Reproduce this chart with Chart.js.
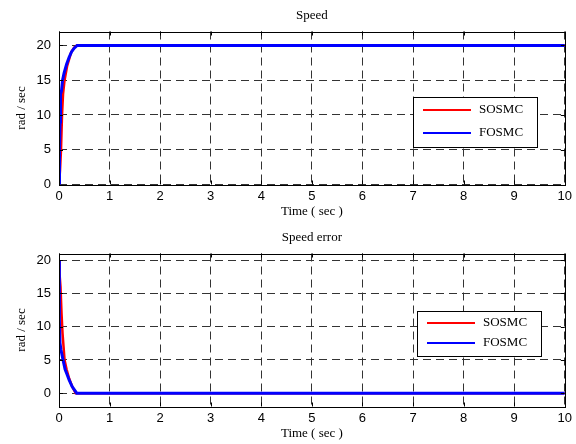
<!DOCTYPE html>
<html>
<head>
<meta charset="utf-8">
<script src="https://cdn.jsdelivr.net/npm/chart.js@4"></script>
<style>
  html, body { margin: 0; padding: 0; background: #fff; }
  .plot { position: absolute; left: 0; width: 576px; height: 222px; }
</style>
</head>
<body>
<div class="plot" style="top:0"><canvas id="speedChart"></canvas></div>
<div class="plot" style="top:222px"><canvas id="errorChart"></canvas></div>
<script>
// time axis ticks (sec)
const timeTicks = [0, 1, 2, 3, 4, 5, 6, 7, 8, 9, 10]
const radTicks = [0, 5, 10, 15, 20]

// speed response (rad/sec)
const speedTimeSO = [0, 0.02, 0.04, 0.06, 0.08, 0.11, 0.16, 0.24, 0.3, 0.35, 10]
const speedSO     = [0, 2, 5, 10, 13, 15, 17, 19, 19.7, 20, 20]
const speedTimeFO = [0, 0.01, 0.02, 0.03, 0.05, 0.07, 0.1, 0.15, 0.2, 0.25, 0.3, 0.36, 10]
const speedFO     = [0, 5, 9, 13, 13.5, 15, 16, 17.3, 18.3, 19.1, 19.6, 20, 20]

// speed error (rad/sec)
const errTimeSO = [0, 0.01, 0.03, 0.05, 0.07, 0.09, 0.11, 0.15, 0.2, 0.26, 0.33, 10]
const errSO     = [20, 18, 16, 12, 9, 7, 5, 3.6, 2.2, 1, 0, 0]
const errTimeFO = [0, 0.005, 0.01, 0.02, 0.04, 0.08, 0.12, 0.16, 0.2, 0.26, 0.35, 10]
const errFO     = [20, 16, 11, 7.5, 6.5, 5, 3.6, 2.8, 2, 1, 0, 0]

const pts = (xs, ys) => xs.map((x, i) => ({ x: x, y: ys[i] }))

const serif = "'Liberation Serif', 'Times New Roman', serif"
const sans = "'Liberation Sans', Arial, sans-serif"

// box, inward ticks and a MATLAB-like legend
const boxPlugin = {
  id: 'matlabBox',
  afterDatasetsDraw(chart, args, opts) {
    const { ctx, chartArea: a, scales } = chart
    ctx.save()
    ctx.strokeStyle = '#000'
    ctx.lineWidth = 1
    ctx.beginPath()
    timeTicks.forEach(v => {
      const x = Math.round(scales.x.getPixelForValue(v)) + 0.5
      ctx.moveTo(x, a.bottom); ctx.lineTo(x, a.bottom - 4)
      ctx.moveTo(x, a.top); ctx.lineTo(x, a.top + 4)
    })
    radTicks.forEach(v => {
      const y = Math.round(scales.y.getPixelForValue(v)) + 0.5
      ctx.moveTo(a.left, y); ctx.lineTo(a.left + 4, y)
      ctx.moveTo(a.right, y); ctx.lineTo(a.right - 4, y)
    })
    ctx.stroke()
    ctx.strokeRect(Math.round(a.left) + 0.5, Math.round(a.top) + 0.5,
      Math.round(a.right - a.left), Math.round(a.bottom - a.top))

    // legend
    const L = opts.box
    ctx.fillStyle = '#fff'
    ctx.fillRect(L.x, L.y, L.w, L.h)
    ctx.strokeRect(L.x + 0.5, L.y + 0.5, L.w, L.h)
    ctx.font = '13px ' + serif
    ctx.textBaseline = 'middle'
    chart.data.datasets.forEach((ds, i) => {
      const y = L.y + L.row0 + i * L.rowGap
      ctx.strokeStyle = ds.borderColor
      ctx.lineWidth = 2
      ctx.beginPath()
      ctx.moveTo(L.x + 10, y); ctx.lineTo(L.x + 58, y)
      ctx.stroke()
      ctx.fillStyle = '#000'
      ctx.fillText(ds.label, L.x + 66, y)
    })
    ctx.restore()
  }
}

function makeChart(id, title, so, fo, yMin, yMax, legendBox) {
  new Chart(document.getElementById(id), {
    type: 'line',
    data: {
      datasets: [
        { label: 'SOSMC', data: so, borderColor: '#ff0000', borderWidth: 2.5, pointRadius: 0, tension: 0, order: 1 },
        { label: 'FOSMC', data: fo, borderColor: '#0000ff', borderWidth: 3, pointRadius: 0, tension: 0, order: 0 }
      ]
    },
    plugins: [boxPlugin],
    options: {
      responsive: true,
      maintainAspectRatio: false,
      animation: false,
      layout: { padding: { top: 0, right: 11, bottom: 0, left: 0 } },
      plugins: {
        legend: { display: false },
        tooltip: { enabled: false },
        title: {
          display: true,
          text: title,
          fullSize: false,
          color: '#000',
          font: { family: serif, size: 13, weight: 'normal' },
          padding: { top: 8, bottom: 7.9 }
        },
        matlabBox: { box: legendBox }
      },
      scales: {
        x: {
          type: 'linear',
          min: 0,
          max: 10,
          afterBuildTicks: s => { s.ticks = timeTicks.map(v => ({ value: v })) },
          afterFit: s => { s.height = 37.5 },
          grid: { color: '#333', lineWidth: 1, drawTicks: false },
          border: { display: false, dash: [8, 5] },
          ticks: { color: '#000', font: { family: sans, size: 13 }, padding: 4, maxRotation: 0 },
          title: { display: true, text: 'Time ( sec )', color: '#000', font: { family: serif, size: 13 }, padding: 3 }
        },
        y: {
          min: yMin,
          max: yMax,
          afterBuildTicks: s => { s.ticks = radTicks.map(v => ({ value: v })) },
          afterFit: s => { s.width = 59 },
          grid: { color: '#333', lineWidth: 1, drawTicks: false },
          border: { display: false, dash: [8, 5] },
          ticks: { color: '#000', font: { family: sans, size: 13 }, padding: 8 },
          title: { display: true, text: 'rad / sec', color: '#000', font: { family: serif, size: 13 }, padding: 14 }
        }
      }
    }
  })
}

makeChart('speedChart', 'Speed', pts(speedTimeSO, speedSO), pts(speedTimeFO, speedFO), 0, 22,
  { x: 413, y: 97, w: 124, h: 50, row0: 13, rowGap: 23 })
makeChart('errorChart', 'Speed error', pts(errTimeSO, errSO), pts(errTimeFO, errFO), -2, 21,
  { x: 417, y: 89, w: 124, h: 45, row0: 12, rowGap: 20 })
</script>
</body>
</html>
